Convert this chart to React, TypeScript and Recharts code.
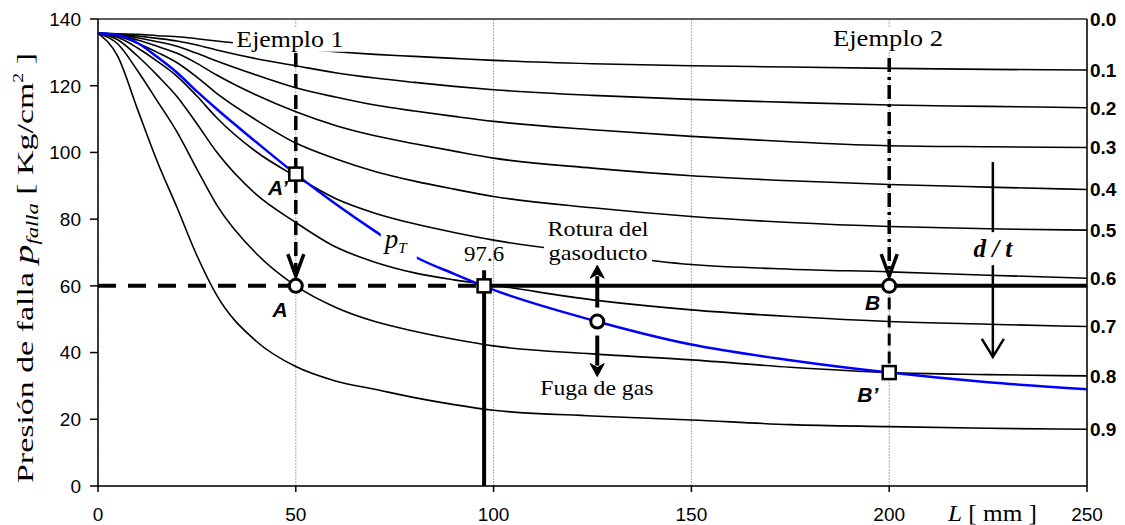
import React from 'react';
import {
    ComposedChart, Line, XAxis, YAxis, CartesianGrid,
    ReferenceLine, ReferenceDot, Label,
} from 'recharts';

// longitud del defecto L [mm]
const L_MM = [0, 5, 10, 15, 20, 25, 30, 40, 50, 60, 70, 80, 90, 100, 125, 150, 175, 200, 225, 250];

// presión de falla para cada d/t [Kg/cm2]
const DT_01 = [135.7, 135.6, 135.4, 135.0, 134.7, 134.1, 133.4, 132.2, 131.1, 130.2, 129.4, 128.8, 128.2, 127.6, 126.6, 126.0, 125.6, 125.2, 124.9, 124.7];
const DT_02 = [135.7, 135.5, 134.9, 134.2, 133.4, 132.2, 130.7, 128.1, 126.0, 123.9, 122.3, 121.0, 119.8, 118.8, 117.1, 115.9, 115.0, 114.2, 113.8, 113.4];
const DT_03 = [135.7, 135.4, 134.4, 133.2, 131.8, 129.7, 127.4, 123.2, 119.4, 116.6, 114.2, 112.4, 110.8, 109.3, 106.8, 104.8, 103.2, 102.0, 101.7, 101.5];
const DT_04 = [135.7, 135.2, 133.7, 131.8, 129.7, 126.7, 123.2, 117.2, 112.2, 108.1, 105.0, 102.6, 100.4, 98.3, 95.3, 93.0, 91.5, 90.4, 89.6, 88.9];
const DT_05 = [135.7, 134.9, 132.7, 130.0, 126.9, 122.6, 117.7, 109.7, 102.8, 98.1, 94.3, 91.4, 89.0, 86.8, 83.4, 80.8, 79.0, 77.8, 77.1, 76.7];
const DT_06 = [135.7, 134.5, 131.3, 127.3, 122.8, 116.9, 110.4, 100.2, 92.8, 86.2, 81.8, 78.6, 76.0, 73.7, 69.7, 66.4, 65.0, 64.2, 63.2, 62.3];
const DT_07 = [135.7, 133.8, 128.9, 123.1, 116.7, 108.6, 100.1, 87.4, 79.0, 71.7, 67.1, 63.9, 61.8, 60.2, 55.8, 52.8, 50.8, 49.3, 48.5, 47.8];
const DT_08 = [135.7, 132.5, 124.5, 115.4, 106.1, 95.0, 84.3, 69.7, 60.0, 53.6, 49.3, 46.4, 44.0, 42.0, 39.6, 37.8, 35.6, 34.0, 33.4, 33.0];
const DT_09 = [135.7, 128.8, 112.9, 97.2, 83.4, 69.1, 57.2, 43.4, 35.8, 31.5, 29.0, 26.5, 24.4, 22.7, 21.0, 19.8, 18.4, 17.8, 17.3, 17.0];
// curva p_T (azul)
const P_T = [135.7, 135.2, 132.8, 128.6, 123.9, 118.3, 113.0, 103.1, 93.5, 84.6, 76.4, 68.8, 63.6, 58.8, 49.7, 42.4, 37.7, 34.0, 31.1, 29.0];

const CURVES = [DT_01, DT_02, DT_03, DT_04, DT_05, DT_06, DT_07, DT_08, DT_09];

// etiquetas del eje derecho (d/t) y la presión donde van
const DT_LABELS = ['0.0', '0.1', '0.2', '0.3', '0.4', '0.5', '0.6', '0.7', '0.8', '0.9'];
const DT_LABEL_AT = [140, 124.7, 113.4, 101.5, 88.9, 76.7, 62.3, 47.8, 33.0, 17.0];

const X_TICKS = [0, 50, 100, 150, 200, 250];
const Y_TICKS = [0, 20, 40, 60, 80, 100, 120, 140];

// puntos de los ejemplos
const P_OPER = 60;
const L_EJ1 = 50;
const L_EJ2 = 200;
const L_T = 97.6;
const P_A_PRIME = 93.5;
const P_B_PRIME = 34;
const L_LIMIT = 126.2;
const P_LIMIT = 49.3;

const data = L_MM.map((L, i) => {
    const row: Record<string, number> = { L, pT: P_T[i] };
    CURVES.forEach((c, k) => { row['d' + (k + 1)] = c[i]; });
    return row;
});

const SERIF = '"Liberation Serif", "Times New Roman", serif';
const SANS = '"Liberation Sans", Arial, sans-serif';

// línea con punta de flecha (abierta o rellena) al final
const arrow = (o: { w: number; dash?: string; head?: 'open' | 'solid'; hw?: number; hl?: number }) => (p: any) => {
    const { x1, y1, x2, y2 } = p;
    const dx = x2 - x1, dy = y2 - y1;
    const len = Math.hypot(dx, dy) || 1;
    const ux = dx / len, uy = dy / len;
    const hw = o.hw ?? 8, hl = o.hl ?? 20;
    const bx = x2 - ux * hl, by = y2 - uy * hl;
    const lx = bx - uy * hw, ly = by + ux * hw;
    const rx = bx + uy * hw, ry = by - ux * hw;
    const endX = o.head === 'solid' ? bx + ux * 2 : x2;
    const endY = o.head === 'solid' ? by + uy * 2 : y2;
    return (
        <g>
            <line x1={x1} y1={y1} x2={endX} y2={endY} stroke="#000" strokeWidth={o.w} strokeDasharray={o.dash} />
            {o.head === 'open' && (
                <polyline points={`${lx},${ly} ${x2},${y2} ${rx},${ry}`} fill="none" stroke="#000" strokeWidth={o.w} strokeLinejoin="miter" />
            )}
            {o.head === 'solid' && (
                <polygon points={`${lx},${ly} ${x2},${y2} ${rx},${ry} ${bx + ux * 4},${by + uy * 4}`} fill="#000" stroke="#000" strokeWidth={1} />
            )}
        </g>
    );
};

const square = (p: any) => (
    <rect x={p.cx - 6.5} y={p.cy - 6.5} width={13} height={13} fill="#fff" stroke="#000" strokeWidth={2.5} />
);

type TextOpts = {
    size: number; anchor?: string; family?: string; weight?: string; italic?: boolean;
    len?: number; bg?: [number, number, number, number];
};

const text = (label: React.ReactNode, o: TextOpts) => (p: any) => (
    <g>
        {o.bg && <rect x={p.cx + o.bg[0]} y={p.cy + o.bg[1]} width={o.bg[2]} height={o.bg[3]} fill="#fff" />}
        <text
            x={p.cx}
            y={p.cy}
            textAnchor={(o.anchor ?? 'middle') as any}
            fontSize={o.size}
            fontFamily={o.family ?? SERIF}
            fontWeight={o.weight ?? 'normal'}
            fontStyle={o.italic ? 'italic' : 'normal'}
            textLength={o.len}
            lengthAdjust={o.len ? 'spacingAndGlyphs' : undefined}
            fill="#000"
        >
            {label}
        </text>
    </g>
);

const LeftTick = (p: any) => (
    <text x={p.x - 7} y={p.y} dy="0.36em" textAnchor="end" fontSize={19} fontFamily={SANS} fill="#000">
        {p.payload.value}
    </text>
);

const RightTick = (p: any) => (
    <text x={p.x} y={p.y} dy="0.36em" textAnchor="start" fontSize={19} fontWeight="bold" fontFamily={SANS} fill="#000">
        {DT_LABELS[DT_LABEL_AT.indexOf(p.payload.value)]}
    </text>
);

const BottomTick = (p: any) => (
    <text x={p.x} y={p.y} dy={27} textAnchor="middle" fontSize={19} fontFamily={SANS} fill="#000">
        {p.payload.value}
    </text>
);

const YTitle = () => (
    <text
        transform="translate(33, 268) rotate(-90)" textAnchor="middle" fontSize={24} fontFamily={SERIF} fill="#000"
        textLength={430} lengthAdjust="spacingAndGlyphs"
    >
        Presión de falla{' '}
        <tspan fontStyle="italic" fontSize={27}>p</tspan>
        <tspan fontStyle="italic" fontSize={16} dy={5}>falla</tspan>
        <tspan dy={-5}>{'  [ Kg/cm'}</tspan>
        <tspan fontSize={14} dy={-10}>2</tspan>
        <tspan dy={10}>{' ]'}</tspan>
    </text>
);

const XTitle = () => (
    <text x={948} y={521} fontSize={24} fontFamily={SERIF} fill="#000" textLength={89} lengthAdjust="spacingAndGlyphs">
        <tspan fontStyle="italic">L</tspan>
        <tspan>{'  [ mm ]'}</tspan>
    </text>
);

const App: React.FC = () => {
    return (
        <div style={{ position: 'absolute', left: 0, top: 0, background: '#fff' }}>
            <ComposedChart width={1125} height={525} data={data} margin={{ top: 19, right: 0, bottom: 0, left: 0 }}>
                <CartesianGrid stroke="#aaa" strokeDasharray="2 1" strokeWidth={1} />
                <XAxis
                    dataKey="L" type="number" domain={[0, 250]} ticks={X_TICKS}
                    height={39} axisLine={{ stroke: '#000', strokeWidth: 1.5 }}
                    tickLine={{ stroke: '#000', strokeWidth: 1.5 }} tickSize={6} tick={<BottomTick />}
                >
                    <Label content={<XTitle />} />
                </XAxis>
                <YAxis
                    yAxisId="left" type="number" domain={[0, 140]} ticks={Y_TICKS} width={98}
                    axisLine={{ stroke: '#000', strokeWidth: 1.5 }}
                    tickLine={{ stroke: '#000', strokeWidth: 1.5 }} tickSize={8} tick={<LeftTick />}
                >
                    <Label content={<YTitle />} />
                </YAxis>
                <YAxis
                    yAxisId="right" orientation="right" type="number" domain={[0, 140]} ticks={DT_LABEL_AT} width={38}
                    axisLine={{ stroke: '#000', strokeWidth: 1.5 }} tickLine={false} tickSize={0} tickMargin={3}
                    tick={<RightTick />} interval={0}
                />
                <ReferenceLine yAxisId="left" y={140} stroke="#333" strokeWidth={1.5} />

                {CURVES.map((_, k) => (
                    <Line
                        key={k} yAxisId="left" dataKey={'d' + (k + 1)} type="monotone"
                        stroke="#000" strokeWidth={1.6} dot={false} isAnimationActive={false}
                    />
                ))}
                <Line yAxisId="right" dataKey="pT" type="monotone" stroke="#0000ff" strokeWidth={2.5} dot={false} isAnimationActive={false} />

                {/* textos con fondo blanco */}
                <ReferenceDot yAxisId="left" x={48.5} y={131.7} r={0} shape={text('Ejemplo 1', { size: 23, len: 107, bg: [-57, -19, 114, 24] })} />
                <ReferenceDot yAxisId="left" x={199.7} y={131.9} r={0} shape={text('Ejemplo 2', { size: 23, len: 110, bg: [-58, -19, 116, 24] })} />
                <ReferenceDot yAxisId="left" x={126.4} y={74.9} r={0} shape={text('Rotura del', { size: 21, len: 101, bg: [-54, -18, 108, 47] })} />
                <ReferenceDot yAxisId="left" x={126.4} y={67.8} r={0} shape={text('gasoducto', { size: 21, len: 99 })} />
                <ReferenceDot yAxisId="left" x={126.1} y={27.3} r={0} shape={text('Fuga de gas', { size: 22, len: 113 })} />
                <ReferenceDot yAxisId="left" x={97.6} y={67.4} r={0} shape={text('97.6', { size: 22, len: 40 })} />
                <ReferenceDot
                    yAxisId="left" x={72.5} y={71.3} r={0}
                    shape={text(<><tspan>p</tspan><tspan fontSize={15} dy={5}>T</tspan></>, { size: 27, italic: true, anchor: 'start', bg: [-4, -20, 36, 32] })}
                />

                {/* líneas de los ejemplos */}
                <ReferenceLine yAxisId="left" segment={[{ x: 0, y: P_OPER }, { x: L_T, y: P_OPER }]} stroke="#000" strokeWidth={4} strokeDasharray="18 12" />
                <ReferenceLine yAxisId="left" segment={[{ x: L_T, y: P_OPER }, { x: 250, y: P_OPER }]} stroke="#000" strokeWidth={4} />
                <ReferenceLine yAxisId="left" segment={[{ x: L_T, y: 0 }, { x: L_T, y: 64.7 }]} stroke="#000" strokeWidth={4} />
                <ReferenceLine yAxisId="left" segment={[{ x: L_EJ1, y: 129.8 }, { x: L_EJ1, y: 62.9 }]} shape={arrow({ w: 3.5, dash: '14 7', head: 'open', hw: 8, hl: 22 })} />
                <ReferenceLine yAxisId="left" segment={[{ x: L_EJ2, y: 128.3 }, { x: L_EJ2, y: 62.9 }]} shape={arrow({ w: 3.5, dash: '14 5 3 5', head: 'open', hw: 8, hl: 22 })} />
                <ReferenceLine yAxisId="left" segment={[{ x: L_EJ2, y: 56.5 }, { x: L_EJ2, y: 35.5 }]} stroke="#000" strokeWidth={3} strokeDasharray="12 6" />
                <ReferenceLine yAxisId="left" segment={[{ x: L_LIMIT, y: 53.5 }, { x: L_LIMIT, y: 66.2 }]} shape={arrow({ w: 4, head: 'solid', hw: 7, hl: 13 })} />
                <ReferenceLine yAxisId="left" segment={[{ x: L_LIMIT, y: 45.1 }, { x: L_LIMIT, y: 32.8 }]} shape={arrow({ w: 4, head: 'solid', hw: 7, hl: 13 })} />
                <ReferenceLine yAxisId="left" segment={[{ x: 226.2, y: 97.1 }, { x: 226.2, y: 76.1 }]} stroke="#000" strokeWidth={2.5} />
                <ReferenceLine yAxisId="left" segment={[{ x: 226.2, y: 66.2 }, { x: 226.2, y: 38.7 }]} shape={arrow({ w: 2.5, head: 'open', hw: 11, hl: 18 })} />

                {/* marcadores */}
                <ReferenceDot yAxisId="left" x={L_EJ1} y={P_OPER} r={6.5} fill="#fff" stroke="#000" strokeWidth={3} />
                <ReferenceDot yAxisId="left" x={L_EJ2} y={P_OPER} r={6.5} fill="#fff" stroke="#000" strokeWidth={3} />
                <ReferenceDot yAxisId="left" x={L_LIMIT} y={P_LIMIT} r={6.5} fill="#fff" stroke="#000" strokeWidth={3} />
                <ReferenceDot yAxisId="left" x={L_EJ1} y={P_A_PRIME} r={6} shape={square} />
                <ReferenceDot yAxisId="left" x={L_T} y={P_OPER} r={6} shape={square} />
                <ReferenceDot yAxisId="left" x={L_EJ2} y={P_B_PRIME} r={6} shape={square} />

                {/* etiquetas de puntos */}
                <ReferenceDot yAxisId="left" x={48.0} y={87.2} r={0} shape={text("A’", { size: 21, family: SANS, weight: 'bold', italic: true, anchor: 'end' })} />
                <ReferenceDot yAxisId="left" x={46.0} y={50.8} r={0} shape={text('A', { size: 21, family: SANS, weight: 'bold', italic: true })} />
                <ReferenceDot yAxisId="left" x={195.8} y={52.8} r={0} shape={text('B', { size: 21, family: SANS, weight: 'bold', italic: true })} />
                <ReferenceDot yAxisId="left" x={194.6} y={25.2} r={0} shape={text("B’", { size: 21, family: SANS, weight: 'bold', italic: true })} />
                <ReferenceDot yAxisId="left" x={226.2} y={68.6} r={0} shape={text('d / t', { size: 25, weight: 'bold', italic: true })} />
            </ComposedChart>
        </div>
    );
};

export default App;
